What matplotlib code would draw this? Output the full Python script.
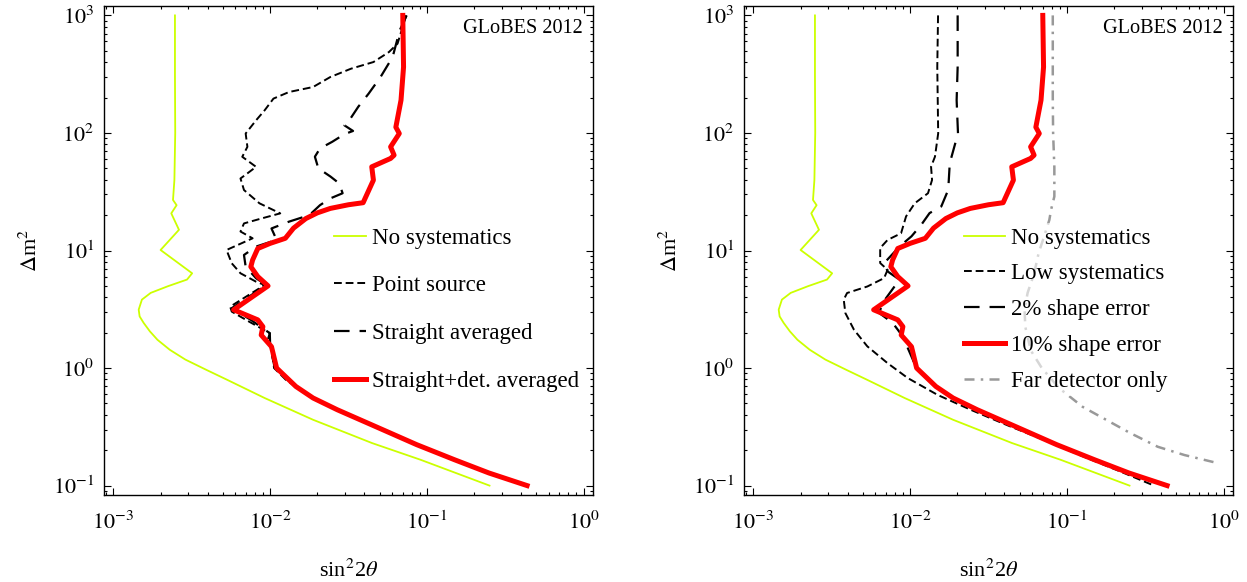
import numpy as np
import matplotlib
matplotlib.use('Agg')
import matplotlib.pyplot as plt

plt.rcParams['font.family'] = ['Liberation Serif', 'DejaVu Serif']
plt.rcParams['mathtext.fontset'] = 'stix'

# ---- data (sin^2 2theta, Delta m^2) ----
# no systematics (same curve in both panels)
nosys_x = [0.00247, 0.00247, 0.00248, 0.00245, 0.00240, 0.00253, 0.00234, 0.00262, 0.00200,
           0.00318, 0.00295, 0.00223, 0.00173, 0.00152, 0.00145, 0.00147, 0.00156, 0.00171,
           0.00191, 0.00229, 0.00288, 0.00390, 0.00530, 0.00925, 0.0188, 0.0447, 0.0910, 0.251]
nosys_y = [1000, 316, 100, 39.8, 26.9, 24.3, 20.7, 15.0, 10.1,
           6.40, 5.66, 4.97, 4.36, 3.82, 3.14, 2.75, 2.42, 2.05,
           1.74, 1.43, 1.18, 0.968, 0.796, 0.555, 0.363, 0.230, 0.166, 0.1]

# straight+det. averaged / 10% shape error (same curve in both panels)
red_x = [0.0702, 0.0710, 0.0684, 0.0634, 0.0667, 0.0587, 0.0618, 0.0587, 0.0445, 0.0456,
         0.0392, 0.0316, 0.0242, 0.0200, 0.0169, 0.0141, 0.0125, 0.0100, 0.00834, 0.00773,
         0.00753, 0.00834, 0.00970, 0.00585, 0.00834, 0.00899, 0.00877, 0.0102, 0.0110,
         0.0146, 0.0188, 0.0268, 0.0468, 0.0861, 0.150, 0.249, 0.436]
red_y = [1000, 364, 190, 112, 98.9, 76.2, 64.7, 60.7, 51.5, 39.7,
         25.5, 24.5, 22.8, 20.9, 18.7, 15.5, 12.7, 11.5, 10.4, 8.30,
         7.28, 6.00, 5.00, 3.13, 2.57, 2.25, 1.91, 1.52, 1.00,
         0.697, 0.556, 0.442, 0.319, 0.223, 0.166, 0.128, 0.1]

# point source (left)
point_x = [0.0738, 0.0650, 0.0573, 0.0456, 0.0328, 0.0242, 0.0188, 0.0132, 0.0105, 0.00923,
           0.00813, 0.00698, 0.00716, 0.00664, 0.00813, 0.00716, 0.00647, 0.00681, 0.00855,
           0.0116, 0.00877, 0.00681, 0.00647, 0.00773, 0.00527, 0.00569, 0.00647, 0.00813,
           0.00923, 0.00556, 0.00569, 0.00735, 0.00995, 0.0097, 0.0102, 0.0106, 0.0126,
           0.0145, 0.0186, 0.0265, 0.0463, 0.0855, 0.149, 0.247, 0.432]
point_y = [1000, 575, 488, 401, 352, 299, 246, 223, 196, 156,
           128, 98.9, 76.2, 62.7, 51.5, 45.3, 41.0, 32.7, 25.2,
           20.7, 18.7, 17.0, 14.5, 12.7, 10.1, 7.78, 6.40, 5.43,
           5.09, 3.33, 3.02, 2.48, 1.98, 1.78, 1.41, 1.0, 0.794,
           0.697, 0.556, 0.442, 0.319, 0.223, 0.166, 0.128, 0.1]

# straight averaged (left)
straight_x = [0.0743, 0.0671, 0.0605, 0.0507, 0.0425, 0.0365, 0.0321, 0.0298, 0.0338, 0.0298,
              0.0249, 0.0208, 0.0193, 0.0203, 0.0243, 0.0276, 0.0290, 0.0243, 0.0208, 0.0178,
              0.0132, 0.0102, 0.0110, 0.00813, 0.00681, 0.00698, 0.00813, 0.00946, 0.00569,
              0.00753, 0.00995, 0.0100, 0.0107, 0.0132, 0.0146, 0.0187, 0.0266, 0.0465,
              0.0858, 0.149, 0.248, 0.434]
straight_y = [1000, 746, 443, 300, 216, 167, 129, 116, 104, 97.7,
              84.1, 73.8, 62.8, 50.0, 42.5, 37.2, 30.7, 27.8, 24.3, 20.0,
              17.6, 15.4, 12.3, 10.8, 9.16, 7.28, 5.81, 5.09, 3.23,
              2.57, 1.98, 1.58, 1.0, 0.776, 0.697, 0.556, 0.442, 0.319,
              0.223, 0.166, 0.128, 0.1]

# low systematics (right)
low_x = [0.01507, 0.0149, 0.0151, 0.0144, 0.0136, 0.0138, 0.0130, 0.0107, 0.00942, 0.00875,
         0.00718, 0.00644, 0.00644, 0.00718, 0.00682, 0.00533, 0.00396, 0.00377, 0.00386,
         0.00438, 0.00533, 0.00718, 0.00966, 0.0150, 0.0245, 0.0420, 0.0740, 0.123, 0.210, 0.36]
low_y = [1000, 365, 99.1, 62.8, 51.6, 39.8, 30.7, 25.2, 19.5, 14.0,
         12.3, 10.5, 7.82, 6.85, 5.82, 4.94, 4.35, 3.82, 2.94,
         2.12, 1.53, 1.10, 0.822, 0.590, 0.440, 0.325, 0.240, 0.180, 0.135, 0.1]

# 2% shape error (right)
shape2_x = [0.0201, 0.0201, 0.0198, 0.0202, 0.0179, 0.0175, 0.0158, 0.0133, 0.0118, 0.0102,
            0.00855, 0.00684, 0.00718, 0.00855, 0.00667, 0.00635, 0.00774, 0.00897, 0.0104,
            0.0109, 0.0144, 0.0186, 0.0266, 0.0465, 0.0858, 0.149, 0.248, 0.434]
shape2_y = [1000, 365, 190, 99.1, 55.3, 32.8, 23.7, 20.8, 16.6, 13.2,
            10.8, 7.83, 6.64, 5.65, 3.58, 2.94, 2.42, 1.86, 1.18,
            1.0, 0.697, 0.556, 0.442, 0.319, 0.223, 0.166, 0.128, 0.1]

# far detector only (right)
far_x = [0.0813, 0.0813, 0.0817, 0.0832, 0.0832, 0.0794, 0.0773, 0.0708, 0.0661, 0.0617,
         0.0562, 0.0537, 0.0543, 0.0589, 0.0692, 0.0891, 0.126, 0.178, 0.251, 0.380, 0.562, 0.923]
far_y = [1000, 200, 100, 51.3, 28.8, 22.4, 18.2, 12.6, 9.55, 6.31,
         4.37, 3.16, 2.24, 1.41, 1.0, 0.676, 0.468, 0.363, 0.282, 0.214, 0.182, 0.155]

x_ticks = [1e-3, 1e-2, 1e-1, 1]
x_ticklabels = [r'$10^{-3}$', r'$10^{-2}$', r'$10^{-1}$', r'$10^{0}$']
y_ticks = [1e-1, 1, 1e1, 1e2, 1e3]
y_ticklabels = [r'$10^{-1}$', r'$10^{0}$', r'$10^{1}$', r'$10^{2}$', r'$10^{3}$']

left_labels = ['No systematics', 'Point source', 'Straight averaged', 'Straight+det. averaged']
right_labels = ['No systematics', 'Low systematics', '2% shape error', '10% shape error',
                'Far detector only']

yellow = '#ccff00'
red = '#ff0000'

fig = plt.figure(figsize=(12.47, 5.82), dpi=100)
ax1 = fig.add_axes([104/1247, 87/582, 489/1247, 489/582])
ax2 = fig.add_axes([744/1247, 87/582, 489/1247, 489/582])


def style(ax):
    ax.set_xscale('log')
    ax.set_yscale('log')
    ax.set_xlim(10**-3.06, 10**0.06)
    ax.set_ylim(10**-1.08, 10**3.08)
    ax.set_xticks(x_ticks)
    ax.set_xticklabels(x_ticklabels)
    ax.set_yticks(y_ticks)
    ax.set_yticklabels(y_ticklabels)
    ax.xaxis.set_minor_locator(matplotlib.ticker.LogLocator(base=10, subs=np.arange(2, 10)))
    ax.yaxis.set_minor_locator(matplotlib.ticker.LogLocator(base=10, subs=np.arange(2, 10)))
    ax.xaxis.set_minor_formatter(matplotlib.ticker.NullFormatter())
    ax.yaxis.set_minor_formatter(matplotlib.ticker.NullFormatter())
    ax.tick_params(which='both', direction='in', top=True, right=True, labelsize=16, width=0.8)
    ax.tick_params(which='major', length=5)
    ax.tick_params(which='minor', length=2.5)
    ax.tick_params(axis='x', which='major', pad=12)
    ax.tick_params(axis='y', which='major', pad=7)
    for s in ax.spines.values():
        s.set_linewidth(1.0)
    ax.set_xlabel(r'sin$^2$2$\theta$', fontsize=16, labelpad=18)
    ax.set_ylabel(r'$\Delta$m$^2$', fontsize=16, labelpad=8)
    ax.text(0.98, 0.955, 'GLoBES 2012', transform=ax.transAxes, ha='right', va='center',
            fontsize=14.6)


# left panel
style(ax1)
ax1.plot(nosys_x, nosys_y, color=yellow, lw=1.3, label=left_labels[0])
ax1.plot(point_x, point_y, color='black', lw=1.4, ls=(0, (4, 2)), label=left_labels[1])
ax1.plot(straight_x, straight_y, color='black', lw=1.6, ls=(0, (7, 4.5)), label=left_labels[2])
ax1.plot(red_x, red_y, color=red, lw=3.6, label=left_labels[3])
ax1.legend(loc='center left', bbox_to_anchor=(0.46, 0.379), fontsize=16.5,
           frameon=True, framealpha=0.6, edgecolor='none', fancybox=False,
           handlelength=1.4, handletextpad=0.3, labelspacing=1.16,
           borderpad=0.2, borderaxespad=0)

# right panel
style(ax2)
ax2.plot(nosys_x, nosys_y, color=yellow, lw=1.3, label=right_labels[0])
ax2.plot(low_x, low_y, color='black', lw=1.4, ls=(0, (4, 2)), label=right_labels[1])
ax2.plot(shape2_x, shape2_y, color='black', lw=1.6, ls=(0, (7, 4.5)), label=right_labels[2])
ax2.plot(red_x, red_y, color=red, lw=3.6, label=right_labels[3])
ax2.plot(far_x, far_y, color='#999999', lw=1.8, ls=(0, (4, 2.5, 1, 2.5)), label=right_labels[4])
ax2.legend(loc='center left', bbox_to_anchor=(0.44, 0.379), fontsize=16.5,
           frameon=True, framealpha=0.6, edgecolor='none', fancybox=False,
           handlelength=1.8, handletextpad=0.27, labelspacing=0.64,
           borderpad=0.2, borderaxespad=0)

fig.savefig('out.png', dpi=100)
